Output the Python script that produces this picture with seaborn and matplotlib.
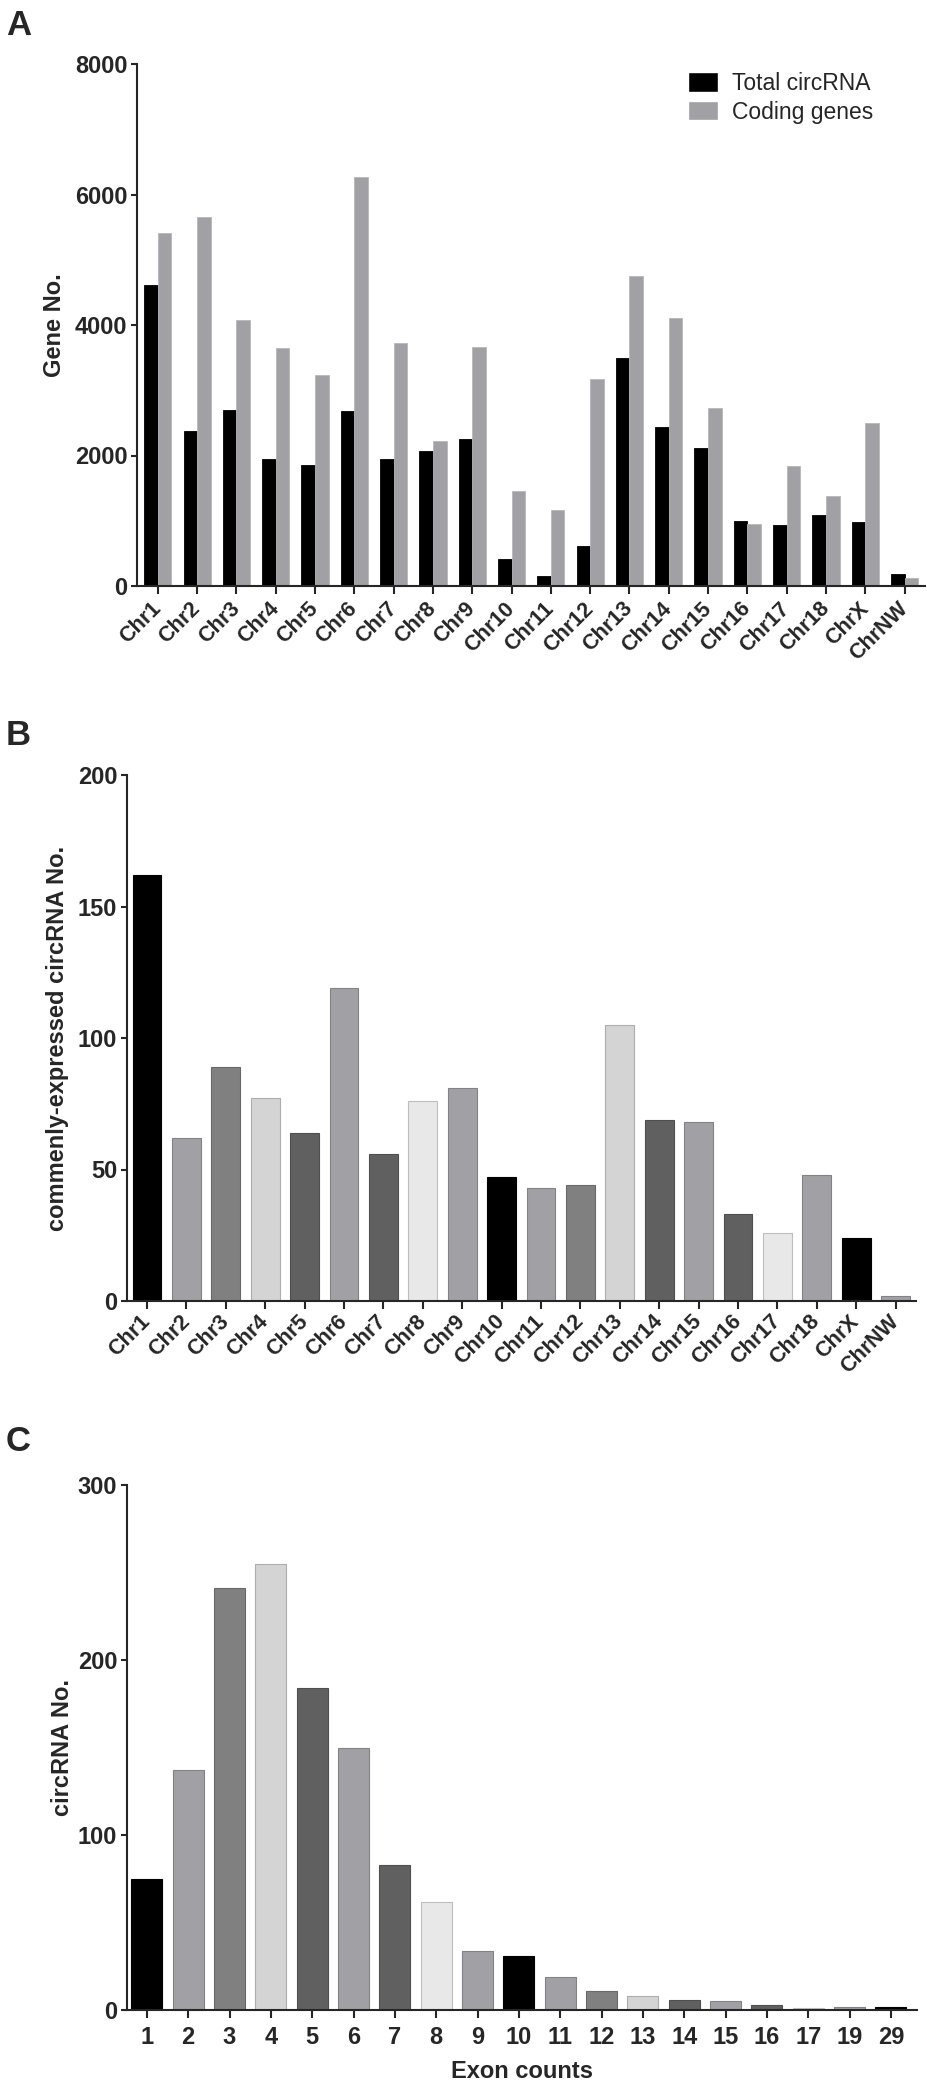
import matplotlib
matplotlib.use('Agg')
import matplotlib.pyplot as plt
import matplotlib.colors as mcolors
import seaborn as sns
import pandas as pd
from matplotlib.patches import Patch

# Panel A: circRNA host genes vs coding genes per chromosome
chroms = ['Chr1', 'Chr2', 'Chr3', 'Chr4', 'Chr5', 'Chr6', 'Chr7', 'Chr8', 'Chr9',
          'Chr10', 'Chr11', 'Chr12', 'Chr13', 'Chr14', 'Chr15', 'Chr16', 'Chr17',
          'Chr18', 'ChrX', 'ChrNW']
total_circ = [4610, 2380, 2700, 1940, 1850, 2685, 1950, 2075, 2250, 410,
              160, 617, 3490, 2438, 2115, 999, 940, 1087, 987, 188]
coding_genes = [5415, 5660, 4070, 3640, 3230, 6273, 3725, 2220, 3670, 1457,
                1170, 3166, 4746, 4106, 2731, 952, 1838, 1374, 2496, 125]

# Panel B: commonly expressed circRNA per chromosome
common_circ = [162, 62, 89, 77, 64, 119, 56, 76, 81, 47,
               43, 44, 105, 69, 68, 33, 26, 48, 24, 2]

# Panel C: circRNA by exon count
exon_labels = ['1', '2', '3', '4', '5', '6', '7', '8', '9', '10',
               '11', '12', '13', '14', '15', '16', '17', '19', '29']
exon_circ = [75, 137, 241, 255, 184, 150, 83, 62, 34, 31,
             19, 11, 8, 6, 5, 3, 1, 2, 2]

# grayscale cycle used for the single-series panels
grey_cycle = ['#000000', '#a0a0a5', '#808080', '#d4d4d4', '#606060',
              '#a0a0a5', '#606060', '#e8e8e8', '#a0a0a5']

sns.set_style('ticks')
plt.rcParams['font.family'] = ['Liberation Sans', 'DejaVu Sans']
plt.rcParams['axes.linewidth'] = 1.5

W, H = 928, 2087
fig = plt.figure(figsize=(W / 100, H / 100), dpi=100)


def axes_px(left, top, right, bottom):
    return fig.add_axes([left / W, 1 - bottom / H, (right - left) / W, (bottom - top) / H])


def style_axis(ax):
    sns.despine(ax=ax)
    ax.tick_params(axis='y', length=4.5, width=1.5, pad=2.5, labelsize=17)
    ax.tick_params(axis='x', length=5.5, width=1.5)
    for lab in ax.get_yticklabels():
        lab.set_fontweight('bold')


def slant_labels(ax, pad):
    ax.tick_params(axis='x', pad=pad, labelsize=15.5)
    for lab in ax.get_xticklabels():
        lab.set_rotation(45)
        lab.set_ha('right')
        lab.set_va('center')
        lab.set_rotation_mode('anchor')
        lab.set_fontweight('bold')


def darker_edges(ax):
    for bar in ax.patches:
        r, g, b, _ = bar.get_facecolor()
        bar.set_edgecolor((r * 0.82, g * 0.82, b * 0.82))
        bar.set_linewidth(0.8)


# ---- A ----
axA = axes_px(137, 64, 925, 586)
dfA = pd.DataFrame({
    'Chromosome': chroms * 2,
    'Count': total_circ + coding_genes,
    'Type': ['Total circRNA'] * len(chroms) + ['Coding genes'] * len(chroms),
})
sns.barplot(data=dfA, x='Chromosome', y='Count', hue='Type',
            palette=['#000000', '#a0a0a5'], width=0.69, saturation=1,
            edgecolor='#b8b8bc', linewidth=0.6, ax=axA)
for bar in axA.patches[:len(chroms)]:
    bar.set_edgecolor('#000000')
axA.set_ylim(0, 8000)
axA.set_yticks([0, 2000, 4000, 6000, 8000])
axA.set_xlim(-0.53, 19.52)
axA.set_xlabel('')
axA.set_ylabel('Gene No.', fontsize=17, fontweight='bold')
axA.yaxis.set_label_coords(-0.090, 0.5)
style_axis(axA)
slant_labels(axA, 8.5)
axA.legend(handles=[Patch(facecolor='#000000', label='Total circRNA'),
                    Patch(facecolor='#a0a0a5', label='Coding genes')],
           loc='upper left', bbox_to_anchor=(0.699, 0.985), borderaxespad=0,
           frameon=False, fontsize=16.5, handlelength=1.3, handleheight=0.92,
           handletextpad=0.65, labelspacing=0.25, borderpad=0)

# ---- B ----
axB = axes_px(127, 775, 916, 1301)
sns.barplot(x=chroms, y=common_circ, hue=chroms,
            palette=(grey_cycle * 3)[:len(chroms)], legend=False,
            width=0.73, saturation=1, ax=axB)
darker_edges(axB)
axB.set_ylim(0, 200)
axB.set_yticks([0, 50, 100, 150, 200])
axB.set_xlim(-0.51, 19.52)
axB.set_ylabel('commenly-expressed circRNA No.', fontsize=17, fontweight='bold')
axB.yaxis.set_label_coords(-0.074, 0.5)
style_axis(axB)
slant_labels(axB, 7)

# ---- C ----
axC = axes_px(127, 1485, 917, 2010)
sns.barplot(x=exon_labels, y=exon_circ, hue=exon_labels,
            palette=(grey_cycle * 3)[:len(exon_labels)], legend=False,
            width=0.75, saturation=1, ax=axC)
darker_edges(axC)
axC.set_ylim(0, 300)
axC.set_yticks([0, 100, 200, 300])
axC.set_xlim(-0.48, 18.63)
axC.set_ylabel('circRNA No.', fontsize=17, fontweight='bold')
axC.yaxis.set_label_coords(-0.067, 0.5)
axC.set_xlabel('Exon counts', fontsize=17, fontweight='bold')
axC.xaxis.set_label_coords(0.5, -0.095)
style_axis(axC)
axC.tick_params(axis='x', pad=6, labelsize=17)
for lab in axC.get_xticklabels():
    lab.set_fontweight('bold')

# panel letters
for letter, top in [('A', 9), ('B', 719), ('C', 1425)]:
    fig.text(6 / W, 1 - top / H, letter, fontsize=25, fontweight='bold',
             ha='left', va='top')

fig.savefig('out.png', dpi=100)
